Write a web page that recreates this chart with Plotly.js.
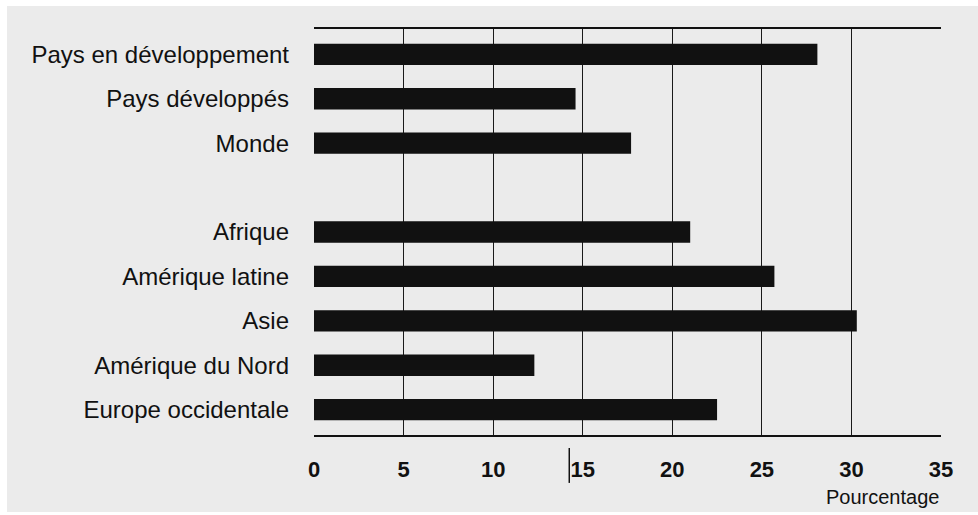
<!DOCTYPE html>
<html>
<head>
<meta charset="utf-8">
<script src="https://cdn.plot.ly/plotly-3.0.1.min.js"></script>
<style>
  html, body { margin: 0; padding: 0; background: #ffffff; }
  #chart { position: absolute; left: 7px; top: 6px; width: 971px; height: 506px; }
</style>
</head>
<body>
<div id="chart"></div>
<script>
const categories = [
  "Pays en développement",
  "Pays développés",
  "Monde",
  " ",
  "Afrique",
  "Amérique latine",
  "Asie",
  "Amérique du Nord",
  "Europe occidentale"
];
const values = [28.1, 14.6, 17.7, null, 21.0, 25.7, 30.3, 12.3, 22.5];
const xTicks = [0, 5, 10, 15, 20, 25, 30, 35];
const xAxisLabel = "Pourcentage";

const trace = {
  type: "bar",
  orientation: "h",
  y: categories,
  x: values,
  width: 0.48,
  marker: { color: "#111111", line: { width: 0 } },
  hoverinfo: "x+y"
};

const layout = {
  width: 971,
  height: 506,
  margin: { l: 307, r: 37, t: 23, b: 77 },
  paper_bgcolor: "#ebebeb",
  plot_bgcolor: "#ebebeb",
  showlegend: false,
  bargap: 0.52,
  xaxis: {
    range: [0, 35],
    tickvals: xTicks,
    ticktext: xTicks.map(String),
    showgrid: true,
    gridcolor: "#1a1a1a",
    gridwidth: 1,
    zeroline: false,
    showline: true,
    mirror: true,
    linecolor: "#111111",
    linewidth: 2,
    ticks: "",
    ticklabelstandoff: 14,
    tickfont: { family: "Liberation Sans, Arial, sans-serif", size: 22, color: "#111111", weight: "bold" },
    fixedrange: true
  },
  yaxis: {
    type: "category",
    categoryorder: "array",
    categoryarray: categories,
    range: [8.57, -0.57],
    showgrid: false,
    zeroline: false,
    showline: false,
    ticks: "",
    ticklabelstandoff: 24,
    tickfont: { family: "Liberation Sans, Arial, sans-serif", size: 24, color: "#111111" },
    fixedrange: true
  },
  annotations: [{
    text: xAxisLabel,
    xref: "paper", yref: "paper",
    x: 1, y: 0,
    xanchor: "right", yanchor: "top",
    yshift: -49,
    showarrow: false,
    font: { family: "Liberation Sans, Arial, sans-serif", size: 20, color: "#111111" }
  }],
  shapes: [{
    type: "line",
    xref: "x", yref: "paper",
    x0: 14.25, x1: 14.25,
    y0: -0.032, y1: -0.118,
    line: { color: "#111111", width: 1.5 }
  }]
};

Plotly.newPlot("chart", [trace], layout, { displayModeBar: false, staticPlot: true });
</script>
</body>
</html>
